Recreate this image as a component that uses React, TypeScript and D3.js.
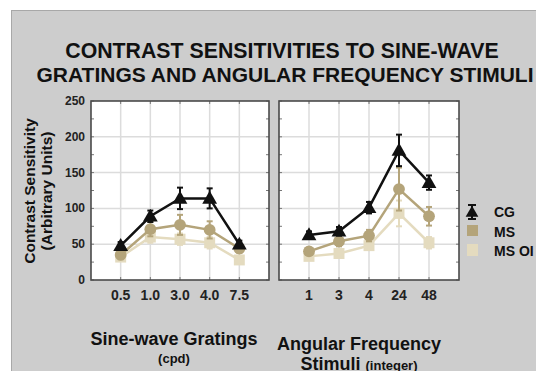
import React from "react";
import * as d3 from "d3";

const gratingCats = ["0.5", "1.0", "3.0", "4.0", "7.5"];
const angularCats = ["1", "3", "4", "24", "48"];
const yTicks = [0, 50, 100, 150, 200, 250];

const cgGrating = [48, 89, 114, 114, 50];
const cgGratingErr = [5, 8, 15, 14, 5];
const msGrating = [35, 71, 77, 70, 44];
const msGratingErr = [6, 10, 14, 12, 6];
const oiGrating = [32, 60, 57, 52, 28];
const oiGratingErr = [5, 8, 8, 8, 5];

const cgAngular = [63, 68, 101, 181, 136];
const cgAngularErr = [5, 6, 8, 22, 10];
const msAngular = [40, 54, 62, 127, 89];
const msAngularErr = [5, 7, 8, 30, 13];
const oiAngular = [33, 37, 48, 93, 52];
const oiAngularErr = [4, 5, 6, 18, 8];

const seriesNames = ["CG", "MS", "MS OI"];
const colors = { CG: "#111111", MS: "#b4a47a", OI: "#e4dbbf" };

const W = 536;
const H = 371;
const plotTop = 101;
const plotBottom = 280;

function Panel({ x0, x1, cats, cg, cgE, ms, msE, oi, oiE, showY }: any) {
  const x = d3.scalePoint<string>().domain(cats).range([x0, x1]).padding(1);
  const y = d3.scaleLinear().domain([0, 250]).range([plotBottom, plotTop]);
  const line = d3
    .line<number>()
    .x((_, i) => x(cats[i]) as number)
    .y((d) => y(d));
  const minor = d3.range(0, 251, 25);
  const tri = d3.symbol(d3.symbolTriangle, 95)();
  const circ = d3.symbol(d3.symbolCircle, 110)();
  const sq = d3.symbol(d3.symbolSquare, 120)();

  const errBars = (vals: number[], errs: number[], color: string, w: number) =>
    vals.map((v, i) => {
      const cx = x(cats[i]) as number;
      return (
        <g key={"e" + i} stroke={color} strokeWidth={w}>
          <line x1={cx} x2={cx} y1={y(v - errs[i])} y2={y(v + errs[i])} />
          <line x1={cx - 3} x2={cx + 3} y1={y(v + errs[i])} y2={y(v + errs[i])} />
          <line x1={cx - 3} x2={cx + 3} y1={y(v - errs[i])} y2={y(v - errs[i])} />
        </g>
      );
    });

  return (
    <g>
      <rect x={x0} y={plotTop} width={x1 - x0} height={plotBottom - plotTop} fill="#ffffff" />
      {yTicks.slice(1, -1).map((t) => (
        <line key={"h" + t} x1={x0} x2={x1} y1={y(t)} y2={y(t)} stroke="#dcdcdc" strokeWidth={1.5} />
      ))}
      {cats.map((c: string) => (
        <line key={"v" + c} x1={x(c)} x2={x(c)} y1={plotTop} y2={plotBottom} stroke="#dcdcdc" strokeWidth={1.5} />
      ))}
      {cats.map((c: string) => (
        <g key={"t" + c}>
          <line x1={x(c)} x2={x(c)} y1={plotTop} y2={plotTop + 3} stroke="#777" />
          <line x1={x(c)} x2={x(c)} y1={plotBottom} y2={plotBottom - 3} stroke="#777" />
        </g>
      ))}
      {minor.map((t) => (
        <g key={"m" + t}>
          <line x1={x0} x2={x0 + 3} y1={y(t)} y2={y(t)} stroke="#777" />
          <line x1={x1} x2={x1 - 3} y1={y(t)} y2={y(t)} stroke="#777" />
        </g>
      ))}
      <path d={line(oi) as string} fill="none" stroke={colors.OI} strokeWidth={2.5} />
      {errBars(oi, oiE, colors.OI, 2)}
      {oi.map((v: number, i: number) => (
        <path key={"o" + i} d={sq as string} transform={`translate(${x(cats[i])},${y(v)})`} fill={colors.OI} />
      ))}
      <path d={line(ms) as string} fill="none" stroke={colors.MS} strokeWidth={2.5} />
      {errBars(ms, msE, colors.MS, 2)}
      {ms.map((v: number, i: number) => (
        <path key={"s" + i} d={circ as string} transform={`translate(${x(cats[i])},${y(v)})`} fill={colors.MS} />
      ))}
      <path d={line(cg) as string} fill="none" stroke={colors.CG} strokeWidth={2.5} />
      {errBars(cg, cgE, colors.CG, 2)}
      {cg.map((v: number, i: number) => (
        <path key={"c" + i} d={tri as string} transform={`translate(${x(cats[i])},${y(v) + 1})`} fill={colors.CG} />
      ))}
      <rect
        x={x0}
        y={plotTop}
        width={x1 - x0}
        height={plotBottom - plotTop}
        fill="none"
        stroke="#4a4a4a"
        strokeWidth={1.6}
      />
      {cats.map((c: string) => (
        <text key={"xl" + c} x={x(c)} y={300} textAnchor="middle" fontSize={14} fontWeight="bold" fill="#222">
          {c}
        </text>
      ))}
      {showY &&
        yTicks.map((t) => (
          <text key={"yl" + t} x={x0 - 6} y={y(t) + 4} textAnchor="end" fontSize={12} fontWeight="bold" fill="#222">
            {t}
          </text>
        ))}
    </g>
  );
}

export default function App() {
  const font = "'Liberation Sans', Arial, Helvetica, sans-serif";
  const tri = d3.symbol(d3.symbolTriangle, 70)();
  return (
    <svg width={W} height={H} style={{ position: "absolute", left: 0, top: 0, fontFamily: font }}>
      <rect x={0} y={0} width={W} height={H} fill="#ffffff" />
      <rect x={11} y={10} width={W - 11} height={H - 10} fill="#cdcdcd" />
      <line x1={11} x2={W} y1={10.5} y2={10.5} stroke="#a8a8a8" />
      <line x1={11.5} x2={11.5} y1={10} y2={H} stroke="#a8a8a8" />

      <text x={282} y={58} textAnchor="middle" fontSize={21.3} fontWeight="bold" fill="#111">
        CONTRAST SENSITIVITIES TO SINE-WAVE
      </text>
      <text x={285} y={82} textAnchor="middle" fontSize={21} fontWeight="bold" fill="#111">
        GRATINGS AND ANGULAR FREQUENCY STIMULI
      </text>

      <Panel x0={91} x1={269} cats={gratingCats} cg={cgGrating} cgE={cgGratingErr} ms={msGrating} msE={msGratingErr} oi={oiGrating} oiE={oiGratingErr} showY={true} />
      <Panel x0={279} x1={459} cats={angularCats} cg={cgAngular} cgE={cgAngularErr} ms={msAngular} msE={msAngularErr} oi={oiAngular} oiE={oiAngularErr} showY={false} />

      <text transform="translate(35,191) rotate(-90)" textAnchor="middle" fontSize={15.5} fontWeight="bold" fill="#111">
        Contrast Sensitivity
      </text>
      <text transform="translate(52,191) rotate(-90)" textAnchor="middle" fontSize={15.5} fontWeight="bold" fill="#111">
        (Arbitrary Units)
      </text>

      <text x={174} y={345} textAnchor="middle" fontSize={18} fontWeight="bold" fill="#111">
        Sine-wave Gratings
      </text>
      <text x={174} y={363} textAnchor="middle" fontSize={13} fontWeight="bold" fill="#111">
        (cpd)
      </text>
      <text x={359} y={350} textAnchor="middle" fontSize={18} fontWeight="bold" fill="#111">
        Angular Frequency
      </text>
      <text x={359} y={370} textAnchor="middle" fill="#111" fontWeight="bold">
        <tspan fontSize={18}>Stimuli </tspan>
        <tspan fontSize={13}>(integer)</tspan>
      </text>

      <g>
        <g stroke="#111" strokeWidth={2}>
          <line x1={472} x2={472} y1={205} y2={219} />
          <line x1={468} x2={476} y1={205} y2={205} />
          <line x1={468} x2={476} y1={219} y2={219} />
        </g>
        <path d={tri as string} transform="translate(472,213)" fill="#111" />
        <rect x={467} y={225} width={11} height={11} fill={colors.MS} />
        <rect x={467} y={244} width={11} height={12} fill={colors.OI} />
        {seriesNames.map((n, i) => (
          <text key={n} x={494} y={217 + i * 19.5} fontSize={14} fontWeight="bold" fill="#111">
            {n}
          </text>
        ))}
      </g>
    </svg>
  );
}
